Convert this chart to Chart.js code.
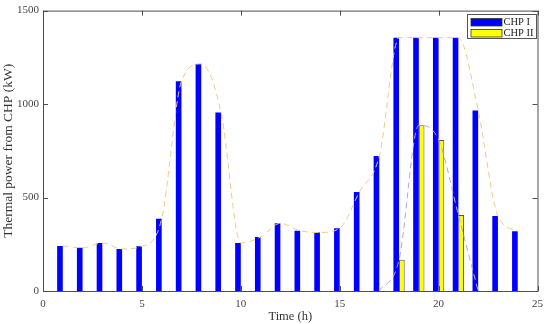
<!DOCTYPE html>
<html>
<head>
<meta charset="utf-8">
<script src="https://cdn.jsdelivr.net/npm/chart.js@4.4.0/dist/chart.umd.min.js"></script>
<style>
  html, body { margin: 0; padding: 0; background: #fff; }
</style>
</head>
<body>
<canvas id="chpChart" width="550" height="324"></canvas>
<script>
// hours of the day and CHP output (kW)
const hours = [1, 2, 3, 4, 5, 6, 7, 8, 9, 10, 11, 12, 13, 14, 15, 16, 17, 18, 19, 20, 21, 22, 23, 24];
const chp1 = [241, 231, 257, 225, 239, 387, 1122, 1215, 955, 257, 289, 362, 322, 313, 336, 530, 722, 1355, 1355, 1355, 1355, 966, 401, 320];
const chp2Hours = [18, 19, 20, 21];
const chp2 = [167, 887, 808, 407];
const chp2LineHours = [17, 18, 19, 20, 21, 22];
const chp2Line = [0, 167, 887, 808, 407, 0];
const xTicks = [0, 5, 10, 15, 20, 25];
const yTicks = [0, 500, 1000, 1500];
const seriesNames = ['CHP I', 'CHP II'];

const serif = "'Liberation Serif', 'DejaVu Serif', serif";

const toPoints = (xs, ys) => xs.map((h, i) => ({ x: h, y: ys[i] }));

// box around the axes, inward ticks and the boxed legend (MATLAB look)
const framePlugin = {
  id: 'frame',
  afterDraw(chart) {
    const { ctx, chartArea: a, scales } = chart;
    ctx.save();
    ctx.strokeStyle = '#4d4d4d';
    ctx.lineWidth = 1;
    ctx.strokeRect(a.left + 0.5, a.top + 0.5, a.right - a.left, a.bottom - a.top);
    ctx.beginPath();
    xTicks.forEach(t => {
      const px = Math.round(scales.x.getPixelForValue(t)) + 0.5;
      ctx.moveTo(px, a.bottom); ctx.lineTo(px, a.bottom - 5);
      ctx.moveTo(px, a.top); ctx.lineTo(px, a.top + 5);
    });
    yTicks.forEach(t => {
      const py = Math.round(scales.y.getPixelForValue(t)) + 0.5;
      ctx.moveTo(a.left, py); ctx.lineTo(a.left + 5, py);
      ctx.moveTo(a.right, py); ctx.lineTo(a.right - 5, py);
    });
    ctx.stroke();

    // legend
    const lx = 467.5, ly = 14.5, lw = 69, lh = 24;
    ctx.fillStyle = '#fff';
    ctx.fillRect(lx, ly, lw, lh);
    ctx.strokeStyle = '#555';
    ctx.strokeRect(lx, ly, lw, lh);
    const bars = chart.data.datasets.filter(d => d.type === 'bar');
    ctx.font = '10.5px ' + serif;
    ctx.textBaseline = 'middle';
    bars.forEach((d, i) => {
      const y0 = 18.5 + i * 11;
      ctx.fillStyle = d.backgroundColor;
      ctx.fillRect(471, y0, 31, 7.5);
      ctx.strokeStyle = '#333';
      ctx.lineWidth = 0.8;
      ctx.strokeRect(471, y0, 31, 7.5);
      ctx.fillStyle = '#222';
      ctx.fillText(d.label, 503.5, y0 + 4);
    });
    ctx.restore();
  }
};

new Chart(document.getElementById('chpChart'), {
  data: {
    datasets: [
      {
        type: 'line',
        label: 'total',
        data: toPoints(hours, chp1),
        borderColor: '#f5c985',
        borderWidth: 1,
        borderDash: [6, 4],
        pointRadius: 0,
        cubicInterpolationMode: 'monotone',
        order: 1
      },
      {
        type: 'line',
        label: 'chp2 trend',
        data: toPoints(chp2LineHours, chp2Line),
        borderColor: '#c4a3c9',
        borderWidth: 1,
        borderDash: [6, 4],
        pointRadius: 0,
        cubicInterpolationMode: 'monotone',
        order: 1
      },
      {
        type: 'bar',
        label: seriesNames[0],
        data: toPoints(hours, chp1),
        backgroundColor: '#0000ff',
        borderWidth: 0,
        categoryPercentage: 0.57,
        barPercentage: 1,
        order: 2
      },
      {
        type: 'bar',
        label: seriesNames[1],
        data: toPoints(chp2Hours, chp2),
        backgroundColor: '#ffff00',
        borderColor: '#555',
        borderWidth: 1,
        categoryPercentage: 0.57,
        barPercentage: 1,
        order: 2
      }
    ]
  },
  options: {
    responsive: false,
    animation: false,
    layout: { padding: { left: 0, right: 10, top: 7, bottom: 0 } },
    plugins: {
      legend: { display: false },
      tooltip: { enabled: false }
    },
    scales: {
      x: {
        type: 'linear',
        min: 0,
        max: 25,
        offset: false,
        grid: { display: false, drawTicks: false },
        border: { display: false },
        afterBuildTicks: s => { s.ticks = xTicks.map(v => ({ value: v })); },
        afterFit: s => { s.height = 33; },
        ticks: { color: '#444', padding: 7, maxRotation: 0, callback: v => String(v), font: { family: serif, size: 11 } },
        title: { display: true, text: 'Time (h)', color: '#333', padding: { top: 0, bottom: 0 }, font: { family: serif, size: 12.5 } }
      },
      y: {
        min: 0,
        max: 1500,
        grid: { display: false, drawTicks: false },
        border: { display: false },
        afterBuildTicks: s => { s.ticks = yTicks.map(v => ({ value: v })); },
        afterFit: s => { s.width = 43; },
        ticks: { color: '#444', padding: 4, callback: v => String(v), font: { family: serif, size: 11 } },
        title: { display: true, text: 'Thermal power from CHP (kW)', color: '#333', padding: { top: 0, bottom: 2 }, font: { family: serif, size: 13.5 } }
      }
    }
  },
  plugins: [framePlugin]
});
</script>
</body>
</html>
